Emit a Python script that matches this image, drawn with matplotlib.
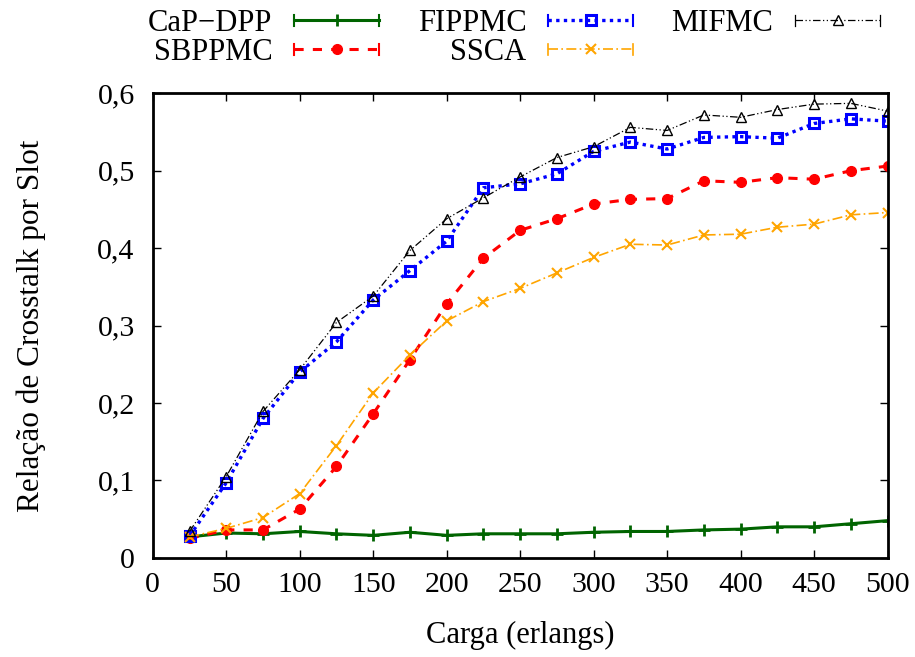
import numpy as np
import matplotlib
matplotlib.use("Agg")
import matplotlib.pyplot as plt
from matplotlib.lines import Line2D
from matplotlib.legend_handler import HandlerLine2D

plt.rcParams['font.family'] = ['Liberation Serif', 'DejaVu Serif']

# carga (erlangs)
carga = [25, 50, 75, 100, 125, 150, 175, 200, 225, 250,
         275, 300, 325, 350, 375, 400, 425, 450, 475, 500]

capdpp = [0.027, 0.032, 0.031, 0.034, 0.031, 0.029, 0.033, 0.029, 0.031, 0.031,
          0.031, 0.033, 0.034, 0.034, 0.036, 0.037, 0.040, 0.040, 0.044, 0.048]
sbppmc = [0.025, 0.036, 0.036, 0.063, 0.118, 0.186, 0.256, 0.328, 0.387, 0.423,
          0.438, 0.457, 0.463, 0.464, 0.487, 0.485, 0.491, 0.489, 0.500, 0.506]
fippmc = [0.028, 0.097, 0.180, 0.240, 0.279, 0.333, 0.371, 0.409, 0.478, 0.483,
          0.496, 0.525, 0.537, 0.528, 0.543, 0.544, 0.542, 0.561, 0.567, 0.564]
ssca = [0.027, 0.038, 0.052, 0.083, 0.145, 0.213, 0.262, 0.306, 0.331, 0.348,
        0.368, 0.388, 0.405, 0.404, 0.417, 0.418, 0.427, 0.431, 0.443, 0.446]
mifmc = [0.034, 0.105, 0.189, 0.243, 0.304, 0.338, 0.397, 0.438, 0.465, 0.492,
         0.517, 0.531, 0.556, 0.552, 0.572, 0.569, 0.579, 0.586, 0.587, 0.577]

xticks = [0, 50, 100, 150, 200, 250, 300, 350, 400, 450, 500]
yticks = [0, 0.1, 0.2, 0.3, 0.4, 0.5, 0.6]
ylabels = ['0', '0,1', '0,2', '0,3', '0,4', '0,5', '0,6']


# gnuplot-like legend sample: line with small vertical caps at both ends
class CapHandler(HandlerLine2D):
    def create_artists(self, legend, orig_handle, xdescent, ydescent, width, height,
                       fontsize, trans):
        artists = super().create_artists(legend, orig_handle, xdescent, ydescent,
                                         width, height, fontsize, trans)
        yc = height / 2 - ydescent
        h = height * 0.25
        for x in (-xdescent, -xdescent + width):
            cap = Line2D([x, x], [yc - h, yc + h], color=orig_handle.get_color(),
                         lw=min(orig_handle.get_linewidth(), 1.5))
            cap.set_transform(trans)
            artists.append(cap)
        return artists


fig = plt.figure(figsize=(9.15, 6.57), dpi=100)
ax = fig.add_axes([0.167, 0.151, 0.803, 0.707])

ax.plot(carga, capdpp, color='#006400', lw=2.2, ls='-', marker='+', ms=9, mew=2,
        label='CaP\u2212DPP')
ax.plot(carga, sbppmc, color='#ff0000', lw=2.2, ls=(0, (3, 3)), marker='o', ms=7,
        label='SBPPMC')
ax.plot(carga, fippmc, color='#0000ff', lw=2.4, ls=(0, (1, 1.3)), marker='s', ms=7.5,
        mfc='none', mew=2.2, label='FIPPMC')
ax.plot(carga, ssca, color='#ffa500', lw=1.2, ls=(0, (6, 2, 1, 2)), marker='x', ms=7,
        mew=1.5, label='SSCA')
ax.plot(carga, mifmc, color='black', lw=0.9, ls=(0, (6, 2, 1, 2, 1, 2)), marker='^', ms=7.5,
        mfc='none', mew=1, label='MIFMC')

ax.set_xlim(0, 500)
ax.set_ylim(0, 0.6)
ax.set_xticks(xticks)
ax.set_yticks(yticks)
ax.set_yticklabels(ylabels)
ax.tick_params(direction='in', top=True, right=True, length=6, width=1, labelsize=21.5)
ax.tick_params(axis='x', pad=10)
ax.tick_params(axis='y', pad=13)
for s in ax.spines.values():
    s.set_linewidth(2)

ax.set_xlabel('Carga (erlangs)', fontsize=22, labelpad=17)
ax.set_ylabel('Relação de Crosstalk por Slot', fontsize=22.5, labelpad=37)

fig.legend(loc='upper center', bbox_to_anchor=(0.562, 1.028), ncol=3, frameon=False,
           markerfirst=False, fontsize=22, handlelength=2.8, columnspacing=1.25,
           handletextpad=0.7, labelspacing=0.0,
           handler_map={Line2D: CapHandler()})

fig.savefig('out.png', dpi=100)
